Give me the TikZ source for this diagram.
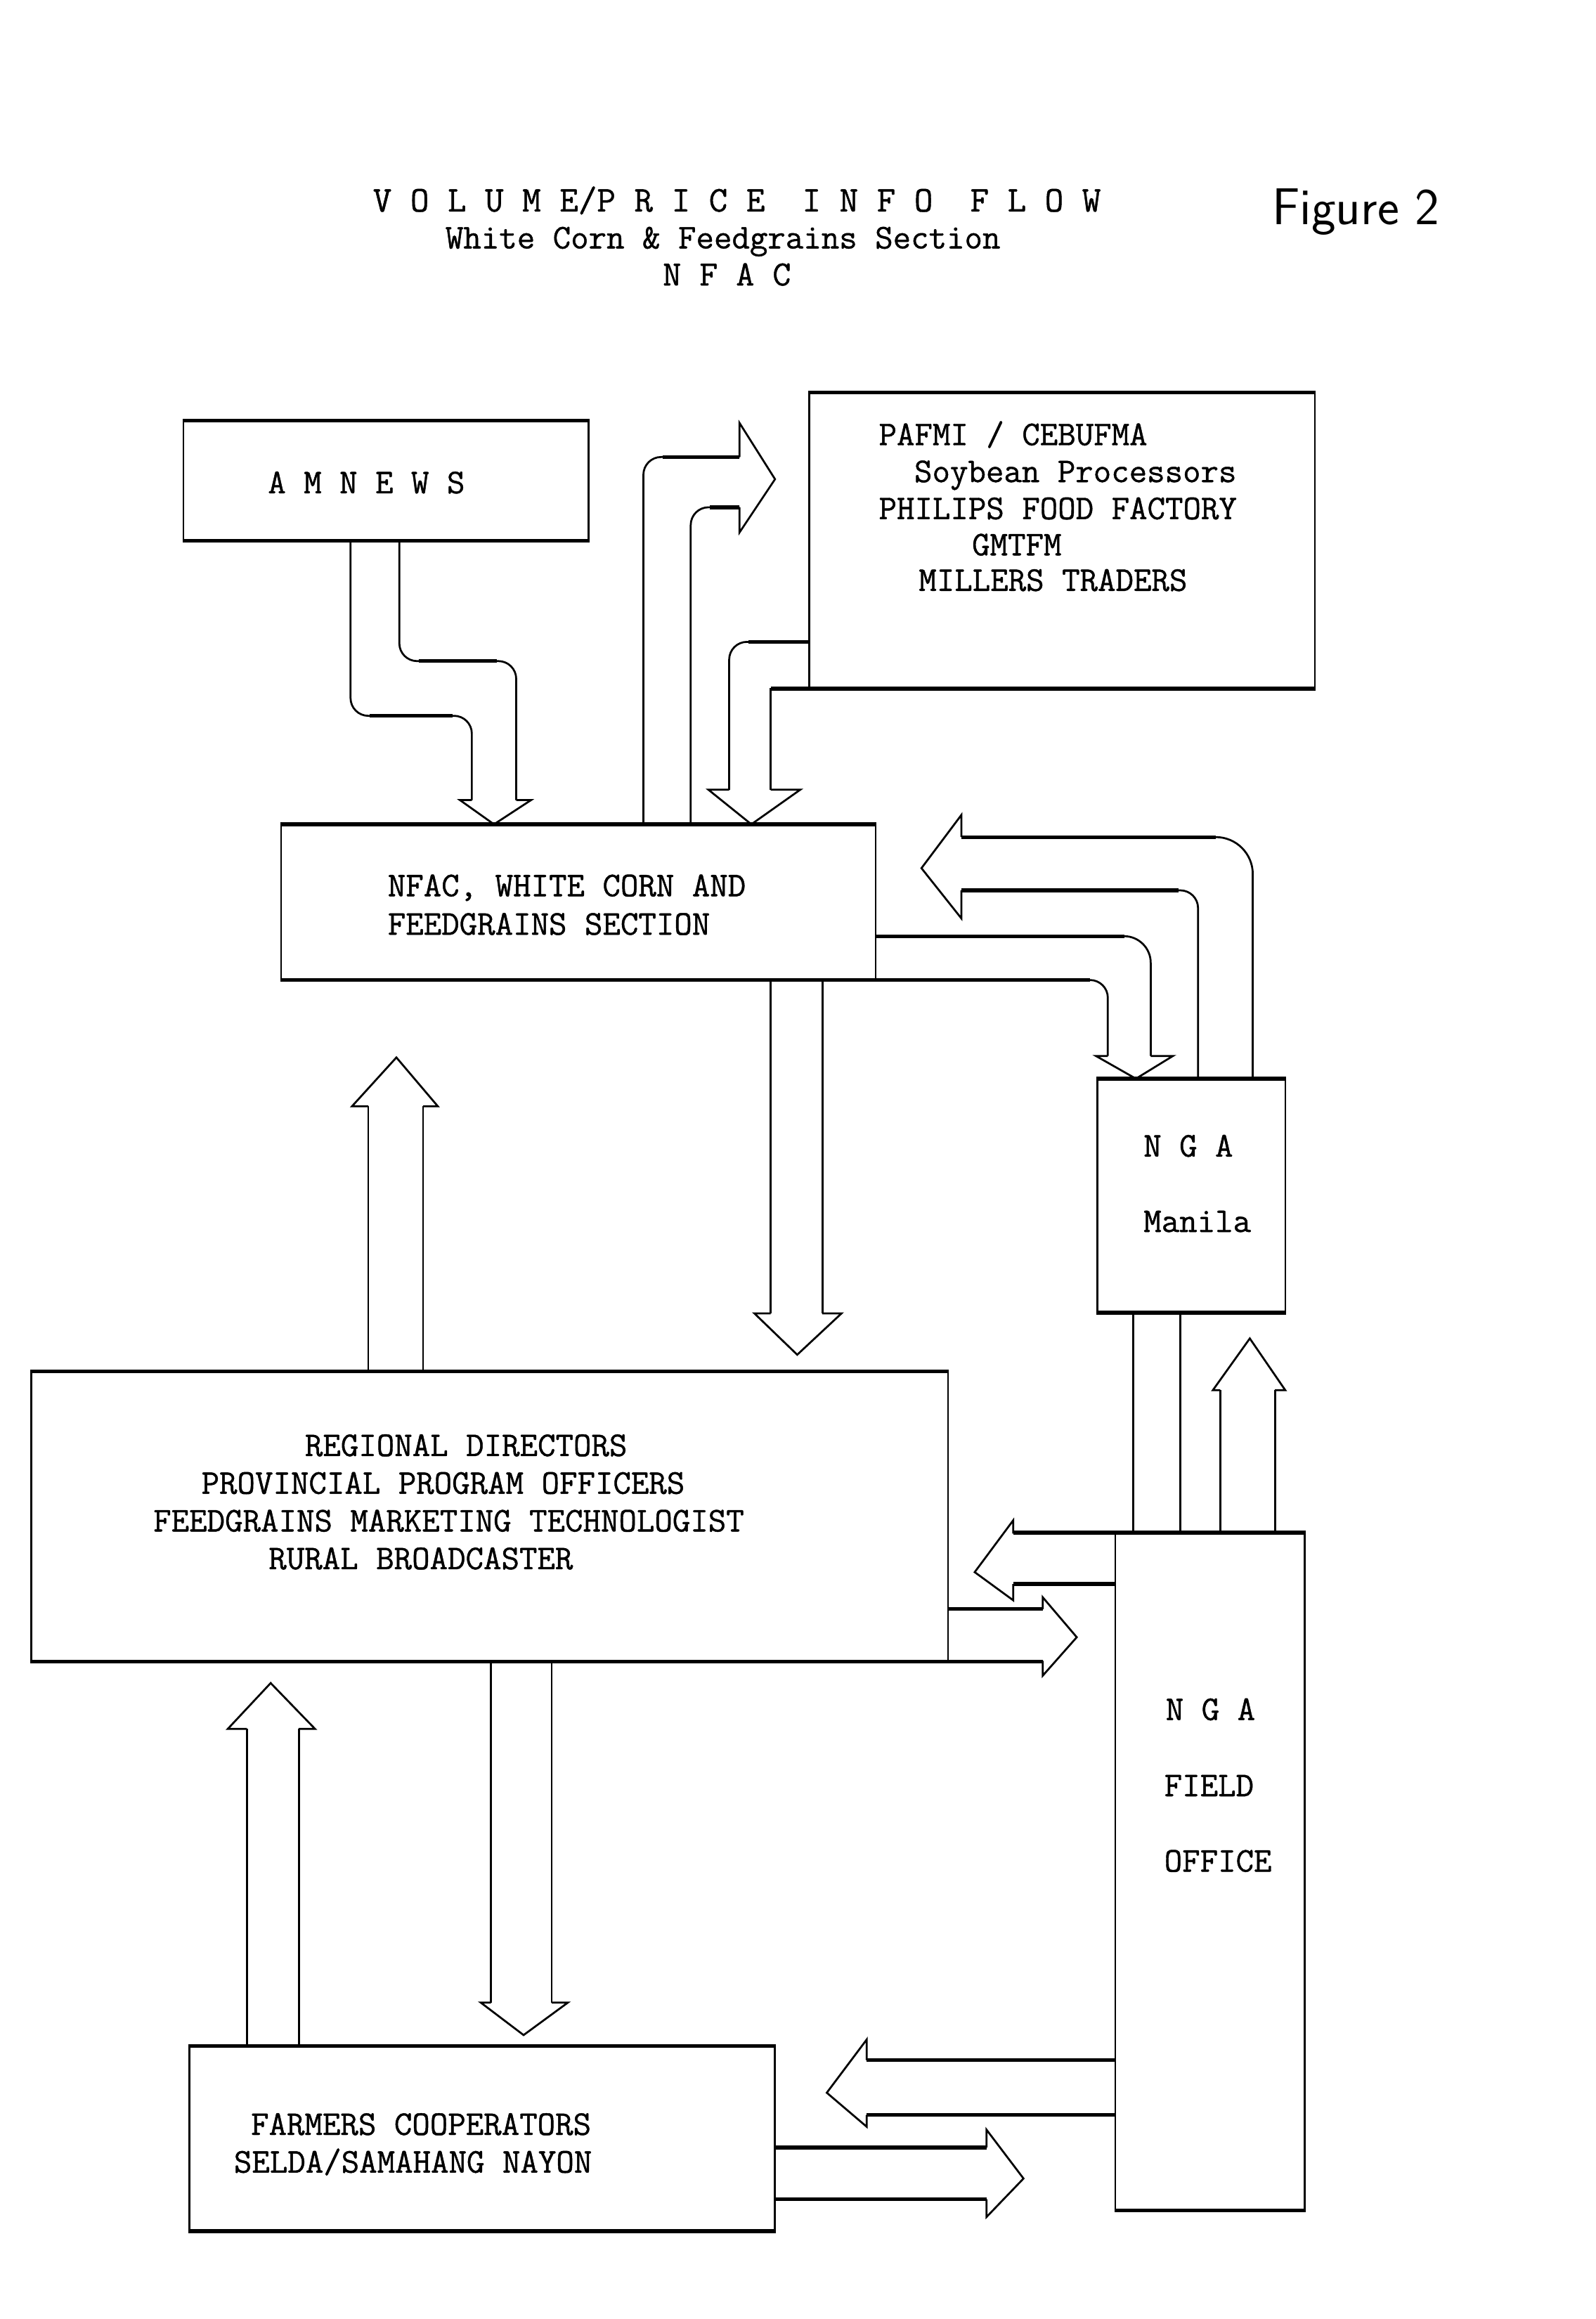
\documentclass[tikz,border=0pt]{standalone}
\usepackage{fontspec}
\newfontfamily\tw{Latin Modern Mono}[FakeBold=0.9]
\begin{document}
\begin{tikzpicture}[x=1pt,y=-1pt,
  box/.style={draw, line width=1.3pt, inner sep=0pt},
  shaft/.style={draw, line width=1.3pt, rounded corners=12pt},
  sshaft/.style={draw, line width=1.3pt},
  hz/.style={draw, line width=2.5pt},
  head/.style={draw, line width=1.3pt, line join=miter},
  txt/.style={font=\tw\fontsize{23.5}{25}\selectfont, anchor=base west, inner sep=0pt},
  ttl/.style={font=\tw\fontsize{24.5}{27}\selectfont, anchor=base west, inner sep=0pt}]
\useasboundingbox (0,0) rectangle (1079,1568);

% ---------- title ----------
\node[ttl] (t1) at (252,143) {V~O~L~U~M~E/P~R~I~C~E~~I~N~F~O~~F~L~O~W};
\node[txt] (t2) at (301,168) {White Corn \& Feedgrains Section};
\node[txt, font=\tw\fontsize{24}{26}\selectfont] (t3) at (448,193) {N~F~A~C};
\node[anchor=base west, inner sep=0pt, font=\sffamily\fontsize{35}{38}\selectfont] (fig) at (860,152) {Figure 2};

% ---------- boxes ----------
\node[box, minimum width=274pt, minimum height=80pt] (amnews) at (261,325) {};
\node[box, minimum width=342pt, minimum height=199pt] (pafmi) at (718,365.5) {};
\node[box, minimum width=402pt, minimum height=104pt] (nfac) at (391,610) {};
\node[box, minimum width=127pt, minimum height=157pt] (ngam) at (805.5,808.5) {};
\node[box, minimum width=620pt, minimum height=195pt] (regional) at (331,1025.5) {};
\node[box, minimum width=128pt, minimum height=457pt] (ngaf) at (818,1265.5) {};
\node[box, minimum width=396pt, minimum height=124pt] (farmers) at (326,1446) {};
\foreach \b in {amnews,pafmi,nfac,ngam,regional,ngaf,farmers}
  \draw[hz] (\b.north west) -- (\b.north east) (\b.south west) -- (\b.south east);

% ---------- box texts ----------
\node[txt] (amt) at (181,333.5) {A~M~N~E~W~S};

\node[txt] (p1) at (594,301) {PAFMI / CEBUFMA};
\node[txt] (p2) at (618,326) {Soybean Processors};
\node[txt] (p3) at (594,351) {PHILIPS FOOD FACTORY};
\node[txt] (p4) at (657,375.5) {GMTFM};
\node[txt] (p5) at (621,399.5) {MILLERS TRADERS};

\node[txt] (n1) at (262,606) {NFAC, WHITE CORN AND};
\node[txt] (n2) at (262,632) {FEEDGRAINS SECTION};

\node[txt] (m1) at (773,782) {N~G~A};
\node[txt] (m2) at (773,833) {Manila};

\node[txt] (r1) at (206,984.5) {REGIONAL DIRECTORS};
\node[txt] (r2) at (136,1010) {PROVINCIAL PROGRAM OFFICERS};
\node[txt] (r3) at (103.5,1035.5) {FEEDGRAINS MARKETING TECHNOLOGIST};
\node[txt] (r4) at (181.5,1061) {RURAL BROADCASTER};

\node[txt] (f1) at (788,1163) {N~G~A};
\node[txt] (f2) at (787,1214.5) {FIELD};
\node[txt] (f3) at (787,1265.5) {OFFICE};

\node[txt] (c1) at (169.5,1443.5) {FARMERS COOPERATORS};
\node[txt] (c2) at (158,1469) {SELDA/SAMAHANG NAYON};

% ---------- A: AMNEWS -> NFAC ----------
\draw[shaft] (237,0 |- amnews.south) -- (237,484) -- (319,484) -- (319,541);
\draw[shaft] (270,0 |- amnews.south) -- (270,447) -- (349,447) -- (349,541);
\draw[hz] (250,484) -- (306,484) (283,447) -- (336,447);
\draw[head] (319,541) -- (311,541) -- (334,0 |- nfac.north) -- (359,541) -- (349,541);

% ---------- B: NFAC -> PAFMI ----------
\draw[shaft] (435,0 |- nfac.north) -- (435,309) -- (500,309);
\draw[shaft] (467,0 |- nfac.north) -- (467,343) -- (500,343);
\draw[hz] (448,309) -- (500,309) (480,343) -- (500,343);
\draw[head] (500,309) -- (500,286) -- (524,324) -- (500,360) -- (500,343);

% ---------- C: PAFMI -> NFAC ----------
\draw[shaft] (pafmi.west |- 0,434) -- (493,434) -- (493,534);
\draw[sshaft] (pafmi.south west) -- (521,0 |- pafmi.south) -- (521,534);
\draw[hz] (pafmi.west |- 0,434) -- (506,434) (pafmi.south west) -- (521,0 |- pafmi.south);
\draw[head] (493,534) -- (479,534) -- (508,0 |- nfac.north) -- (541,534) -- (521,534);

% ---------- D: NGA Manila -> NFAC ----------
\draw[shaft, rounded corners=25pt] (847,0 |- ngam.north) -- (847,566) -- (650,566);
\draw[shaft] (810,0 |- ngam.north) -- (810,602) -- (650,602);
\draw[hz] (650,566) -- (822,566) (650,602) -- (797,602);
\draw[head] (650,566) -- (650,551) -- (623,587) -- (650,621) -- (650,602);

% ---------- E: NFAC -> NGA Manila ----------
\draw[shaft, rounded corners=18pt] (nfac.east |- 0,633) -- (778,633) -- (778,714);
\draw[shaft] (nfac.south east) -- (749,0 |- nfac.south) -- (749,714);
\draw[hz] (nfac.east |- 0,633) -- (760,633) (nfac.south east) -- (737,0 |- nfac.south);
\draw[head] (749,714) -- (741,714) -- (768,0 |- ngam.north) -- (793,714) -- (778,714);

% ---------- F: NFAC -> Regional ----------
\draw[sshaft] (521,0 |- nfac.south) -- (521,888);
\draw[sshaft] (556,0 |- nfac.south) -- (556,888);
\draw[head] (521,888) -- (510,888) -- (539,916) -- (569,888) -- (556,888);

% ---------- G: Regional -> NFAC ----------
\draw[sshaft] (249,0 |- regional.north) -- (249,748);
\draw[sshaft] (286,0 |- regional.north) -- (286,748);
\draw[head] (249,748) -- (238,748) -- (268,715) -- (296,748) -- (286,748);

% ---------- H: NGA Manila <-> Field office ----------
\draw[sshaft] (766,0 |- ngam.south) -- (766,0 |- ngaf.north);
\draw[sshaft] (798,0 |- ngam.south) -- (798,0 |- ngaf.north);
\draw[sshaft] (825,0 |- ngaf.north) -- (825,940);
\draw[sshaft] (862,0 |- ngaf.north) -- (862,940);
\draw[head] (825,940) -- (820,940) -- (845,905) -- (869,940) -- (862,940);

% ---------- I: Field office -> Regional ----------
\draw[hz] (ngaf.north west) -- (685,0 |- ngaf.north);
\draw[hz] (ngaf.west |- 0,1071) -- (685,1071);
\draw[head] (685,1037) -- (685,1028) -- (659,1063) -- (685,1082) -- (685,1071);

% ---------- J: Regional -> Field office ----------
\draw[hz] (regional.east |- 0,1088) -- (705,1088);
\draw[hz] (regional.south east) -- (705,0 |- regional.south);
\draw[head] (705,1088) -- (705,1080) -- (728,1107) -- (705,1133) -- (705,1123);

% ---------- K: Farmers -> Regional ----------
\draw[sshaft] (167,0 |- farmers.north) -- (167,1169);
\draw[sshaft] (202,0 |- farmers.north) -- (202,1169);
\draw[head] (167,1169) -- (154,1169) -- (183,1138) -- (213,1169) -- (202,1169);

% ---------- L: Regional -> Farmers ----------
\draw[sshaft] (332,0 |- regional.south) -- (332,1354);
\draw[sshaft] (373,0 |- regional.south) -- (373,1354);
\draw[head] (332,1354) -- (325,1354) -- (354,1376) -- (384,1354) -- (373,1354);

% ---------- M: Field office -> Farmers ----------
\draw[hz] (ngaf.west |- 0,1393) -- (586,1393);
\draw[hz] (ngaf.west |- 0,1430) -- (586,1430);
\draw[head] (586,1393) -- (586,1379) -- (559,1415) -- (586,1438) -- (586,1430);

% ---------- N: Farmers -> Field office ----------
\draw[hz] (farmers.east |- 0,1452) -- (667,1452);
\draw[hz] (farmers.east |- 0,1487) -- (667,1487);
\draw[head] (667,1452) -- (667,1440) -- (692,1473) -- (667,1499) -- (667,1487);
\end{tikzpicture}
\end{document}
